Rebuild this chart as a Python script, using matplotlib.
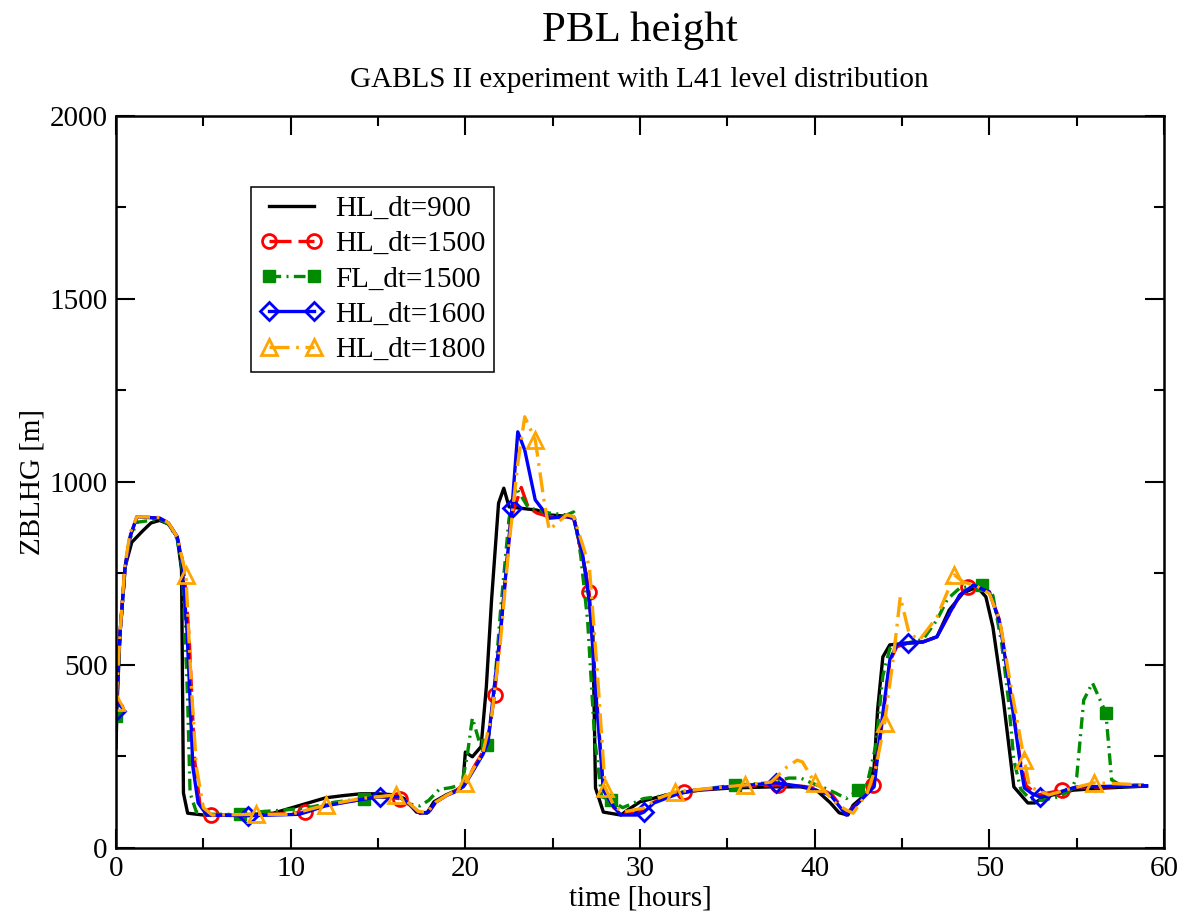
import numpy as np
import matplotlib
matplotlib.use('Agg')
import matplotlib.pyplot as plt
from matplotlib.ticker import MultipleLocator

plt.rcParams['font.family'] = ['Liberation Serif', 'DejaVu Serif']

# HL_dt=900 (black)
t_900 = [0, 0.05, 0.23, 0.52, 0.9, 1.5, 2.0, 2.5, 3.0, 3.5,
         3.75, 3.86, 4.1, 5.0, 7.0, 9.0, 10.0, 11.0, 12.0, 13.0,
         14.0, 15.0, 16.0, 16.5, 17.2, 17.8, 18.2, 18.9, 19.5, 19.85,
         20.0, 20.4, 20.9, 21.2, 21.5, 21.9, 22.2, 22.5, 24.1, 24.8,
         26.2, 26.9, 27.3, 27.45, 27.9, 28.9, 29.3, 30.0, 31.5, 33.4,
         35.3, 37.6, 39.2, 40.1, 40.9, 41.4, 41.9, 42.2, 43.0, 43.4,
         43.6, 43.9, 44.3, 46.2, 47.0, 47.7, 48.5, 49.3, 49.8, 50.2,
         50.8, 51.4, 52.2, 52.6, 53.1, 54.8, 56.7, 59.0]
z_900 = [273, 380, 587, 768, 835, 865, 888, 895, 885, 850,
         760, 150, 95, 90, 90, 95, 109, 123, 137, 143,
         148, 148, 145, 135, 98, 95, 126, 145, 158, 172,
         262, 249, 277, 440, 678, 942, 983, 932, 923, 910,
         905, 751, 587, 164, 98, 90, 104, 126, 145, 158,
         164, 167, 167, 158, 123, 96, 90, 117, 150, 221,
         377, 522, 555, 563, 577, 650, 697, 713, 686, 604,
         404, 167, 123, 123, 139, 158, 164, 169]

# HL_dt=1500 (red)
t_1500 = [0, 0.23, 0.52, 0.8, 1.2, 2.5, 3.0, 3.5, 3.8, 4.0,
          4.2, 4.5, 4.8, 5.42, 7.0, 9.0, 10.83, 12.0, 14.0, 15.0,
          16.25, 16.8, 17.4, 17.9, 18.3, 18.9, 19.5, 20.0, 20.5, 21.0,
          21.3, 21.67, 22.0, 22.6, 23.2, 23.6, 24.1, 24.8, 25.8, 26.2,
          26.7, 27.08, 27.5, 27.9, 28.5, 29.0, 29.8, 30.2, 30.8, 31.5,
          32.5, 35.3, 37.92, 39.4, 40.4, 41.0, 41.8, 42.3, 42.8, 43.33,
          43.8, 44.3, 44.7, 45.3, 46.2, 47.0, 47.6, 48.3, 48.75, 49.3,
          50.0, 50.6, 51.2, 51.8, 52.1, 52.8, 54.17, 55.0, 59.0]
z_1500 = [380, 587, 768, 850, 905, 901, 888, 850, 787, 700,
          560, 240, 120, 90, 90, 92, 98, 117, 132, 140,
          135, 118, 95, 97, 125, 143, 157, 175, 222, 262,
          300, 418, 580, 900, 985, 930, 915, 905, 905, 900,
          800, 700, 420, 160, 110, 95, 95, 105, 125, 140,
          153, 168, 172, 168, 160, 145, 95, 115, 140, 172,
          320, 510, 550, 558, 563, 577, 630, 690, 713, 718,
          700, 620, 430, 230, 170, 145, 158, 165, 170]

# FL_dt=1500 (green)
t_fl = [0, 0.23, 0.52, 0.8, 1.2, 2.5, 3.0, 3.5, 3.8, 3.95,
        4.1, 4.24, 4.6, 5.2, 7.08, 8.5, 9.5, 11.0, 12.5, 14.17,
        15.2, 16.2, 16.8, 17.4, 17.9, 18.5, 19.2, 19.8, 20.1, 20.4,
        20.8, 21.25, 21.6, 22.0, 22.5, 22.9, 23.6, 24.8, 25.8, 26.2,
        26.6, 27.0, 27.4, 27.8, 28.33, 29.0, 29.5, 30.2, 31.0, 32.0,
        35.42, 37.5, 38.5, 39.2, 39.8, 40.5, 41.2, 41.8, 42.5, 43.0,
        43.5, 43.9, 44.3, 44.6, 45.3, 46.2, 47.0, 47.6, 48.3, 49.0,
        49.58, 50.2, 50.7, 51.1, 51.4, 51.8, 52.3, 53.0, 54.0, 54.7,
        55.0, 55.4, 55.9, 56.67, 57.0, 57.5, 59.0]
z_fl = [360, 580, 765, 845, 890, 898, 885, 845, 760, 587,
        404, 150, 98, 92, 92, 100, 103, 110, 125, 135,
        140, 140, 120, 115, 130, 160, 165, 175, 250, 355,
        290, 281, 400, 640, 900, 985, 930, 915, 910, 918,
        800, 620, 300, 140, 131, 110, 120, 135, 140, 150,
        172, 178, 191, 191, 178, 165, 150, 135, 158, 175,
        280, 470, 545, 560, 560, 570, 623, 680, 710, 715,
        718, 690, 560, 400, 240, 160, 135, 130, 140, 160,
        194, 404, 451, 369, 186, 172, 172]

# HL_dt=1600 (blue)
t_1600 = [0, 0.23, 0.52, 0.8, 1.2, 2.5, 3.0, 3.5, 3.77, 4.07,
          4.24, 4.4, 4.7, 5.2, 7.56, 9.0, 10.5, 12.0, 14.0, 15.11,
          16.2, 16.8, 17.4, 17.9, 18.3, 18.9, 19.5, 19.9, 20.5, 21.0,
          21.3, 22.0, 22.67, 23.0, 23.4, 24.0, 24.8, 25.8, 26.2, 26.7,
          27.1, 27.5, 27.9, 28.5, 28.9, 29.8, 30.22, 30.8, 32.0, 33.0,
          35.0, 37.78, 39.4, 40.9, 41.8, 42.2, 43.4, 43.8, 44.3, 44.7,
          45.33, 46.2, 47.0, 47.6, 48.3, 49.1, 50.0, 50.6, 51.2, 51.8,
          52.0, 52.4, 52.89, 53.8, 55.0, 59.0]
z_1600 = [375, 587, 768, 850, 905, 901, 888, 850, 787, 587,
          404, 221, 123, 90, 88, 90, 92, 115, 132, 140,
          140, 120, 95, 98, 125, 143, 155, 168, 215, 255,
          290, 587, 930, 1137, 1087, 951, 901, 905, 901, 806,
          678, 404, 158, 112, 90, 90, 98, 123, 145, 157,
          167, 178, 167, 145, 90, 109, 167, 331, 514, 555,
          560, 563, 577, 631, 691, 718, 699, 615, 423, 221,
          164, 150, 139, 150, 167, 170]

# HL_dt=1800 (orange)
t_1800 = [0, 0.25, 0.5, 0.8, 1.2, 2.5, 3.0, 3.5, 4.0, 4.3,
          4.6, 5.0, 5.5, 8.0, 10.0, 12.0, 14.0, 16.0, 16.6, 17.3,
          17.8, 18.3, 18.9, 19.5, 20.0, 20.5, 21.0, 21.5, 22.0, 22.5,
          23.0, 23.4, 24.0, 24.5, 24.8, 25.3, 25.8, 26.2, 26.7, 27.1,
          27.6, 28.0, 28.5, 29.0, 30.2, 31.0, 32.0, 34.0, 36.0, 37.5,
          38.4, 39.0, 39.3, 40.0, 40.5, 41.1, 41.8, 42.2, 43.0, 43.5,
          44.0, 44.5, 44.9, 45.4, 46.0, 47.0, 48.0, 48.5, 49.3, 50.0,
          50.6, 51.2, 52.0, 52.3, 53.4, 54.5, 56.0, 59.0]
z_1800 = [400, 600, 770, 860, 905, 903, 888, 850, 746, 450,
          221, 110, 90, 92, 92, 117, 135, 145, 130, 100,
          97, 125, 143, 158, 177, 220, 260, 360, 560, 830,
          1050, 1178, 1115, 950, 869, 890, 910, 905, 830, 768,
          450, 165, 115, 98, 109, 135, 153, 163, 172, 180,
          221, 240, 235, 178, 160, 126, 104, 95, 150, 220,
          341, 520, 686, 587, 568, 631, 746, 727, 715, 695,
          620, 450, 240, 167, 145, 160, 178, 172]

# symbol positions (hours)
mk_1500 = [0, 5.42, 10.83, 16.25, 21.67, 27.08, 32.5, 37.92, 43.33, 48.75, 54.17]
mk_fl = [0, 7.08, 14.17, 21.25, 28.33, 35.42, 42.5, 49.58, 56.67]
mk_1600 = [0, 7.56, 15.11, 22.67, 30.22, 37.78, 45.33, 52.89]
mk_1800 = [0, 4, 8, 12, 16, 20, 24, 28, 32, 36, 40, 44, 48, 52, 56]


def marks(t, mt):
    return [bool(np.any(np.isclose(x, mt))) for x in t]


fig = plt.figure(figsize=(11.9, 9.21), dpi=100)
ax = fig.add_axes([0.0975, 0.0793, 0.8807, 0.7948])

lw = 2.4
ax.plot(t_900, z_900, color='black', lw=lw, label='HL_dt=900')
ax.plot(t_1500, z_1500, color='red', lw=lw, dashes=(6.6, 2.1),
        marker='o', ms=10, mfc='none', mew=2, markevery=marks(t_1500, mk_1500),
        label='HL_dt=1500')
ax.plot(t_fl, z_fl, color='#008b00', lw=lw, dashes=(3.5, 1.6, 0.6, 1.6),
        marker='s', ms=8, mfc='#008b00', mew=1, markevery=marks(t_fl, mk_fl),
        label='FL_dt=1500')
ax.plot(t_1600, z_1600, color='blue', lw=lw,
        marker='D', ms=9, mfc='none', mew=2, markevery=marks(t_1600, mk_1600),
        label='HL_dt=1600')
ax.plot(t_1800, z_1800, color='orange', lw=lw, dashes=(6, 2, 0.8, 2),
        marker='^', ms=11, mfc='none', mew=2, markevery=marks(t_1800, mk_1800),
        label='HL_dt=1800')

ax.set_xlim(0, 60)
ax.set_ylim(0, 2000)
ax.xaxis.set_major_locator(MultipleLocator(10))
ax.xaxis.set_minor_locator(MultipleLocator(5))
ax.yaxis.set_major_locator(MultipleLocator(500))
ax.yaxis.set_minor_locator(MultipleLocator(250))
ax.tick_params(which='both', direction='in', top=True, right=True, width=1.5,
               labelsize=21)
ax.tick_params(which='major', length=14, pad=6)
ax.tick_params(which='minor', length=7)
for s in ax.spines.values():
    s.set_linewidth(1.8)

ax.set_xlabel('time [hours]', fontsize=21, labelpad=2)
ax.set_ylabel('ZBLHG [m]', fontsize=21, labelpad=3)

fig.text(0.5375, 0.967, 'PBL height', fontsize=31, ha='center', va='center')
fig.text(0.5375, 0.913, 'GABLS II experiment with L41 level distribution',
         fontsize=21, ha='center', va='center')

leg = ax.legend(loc='upper left', bbox_to_anchor=(0.129, 0.903), borderaxespad=0,
                fontsize=21, numpoints=2, handlelength=2.15, handletextpad=0.42,
                labelspacing=0.3, borderpad=0.3, fancybox=False,
                edgecolor='black', framealpha=1)
leg.get_frame().set_linewidth(1.1)

fig.savefig('out.png', dpi=100)
